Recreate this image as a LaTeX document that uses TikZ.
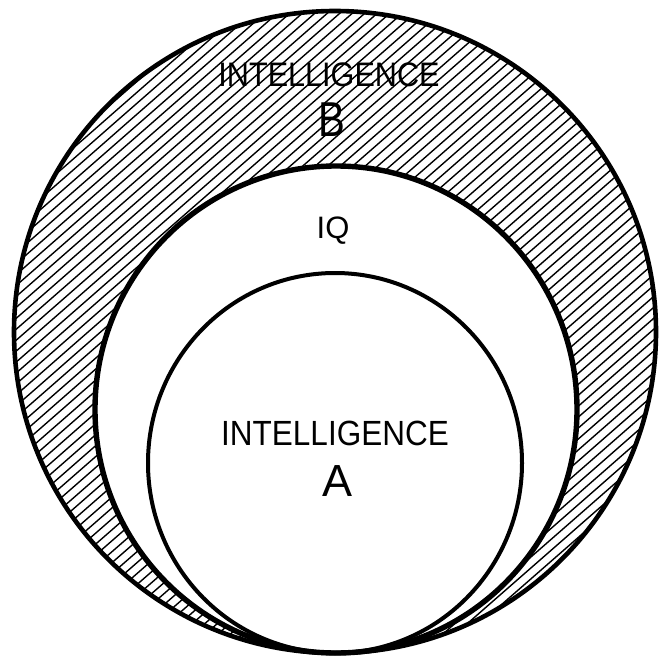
\documentclass[tikz,border=0pt]{standalone}
\usepackage{fontspec}
\setmainfont{Liberation Sans}
\begin{document}
\begin{tikzpicture}[x=1pt,y=-1pt,
  ring/.style={draw=black,line width=#1},
  hatchline/.style={line width=1.4pt,black},
  lbl/.style={inner sep=0pt,anchor=base,text=black}]
\useasboundingbox (0,0) rectangle (663,660);
\fill[white] (0,0) rectangle (663,660);
% hatching between outer and middle circle
\begin{scope}
  \clip (335,332) ellipse [x radius=321, y radius=321];
  \foreach \i in {-820,-807.5,...,700} {
    \draw[hatchline] (\i,700) -- ({\i+800},0);
  }
\end{scope}
\fill[white] (336,409.5) ellipse [x radius=241, y radius=243.5];
% circles
\draw[ring=4.6pt] (335,332) ellipse [x radius=321, y radius=321];
\draw[ring=5.4pt] (336,409.5) ellipse [x radius=241, y radius=243.5];
\draw[ring=4pt] (335,463) ellipse [x radius=187, y radius=190];
% labels
\node[lbl,font=\fontsize{34}{34}\selectfont] (intB) at (329,87) {\scalebox{0.9}[1]{INTELLIGENCE}};
\node[lbl,font=\fontsize{49}{49}\selectfont] (B) at (332,137) {\scalebox{0.82}[1]{B}};
\node[lbl,font=\fontsize{31}{31}\selectfont] (IQ) at (333,239) {IQ};
\node[lbl,font=\fontsize{35}{35}\selectfont] (intA) at (335,445) {\scalebox{0.9}[1]{INTELLIGENCE}};
\node[lbl,font=\fontsize{45}{45}\selectfont] (A) at (338,496) {A};
\end{tikzpicture}
\end{document}
